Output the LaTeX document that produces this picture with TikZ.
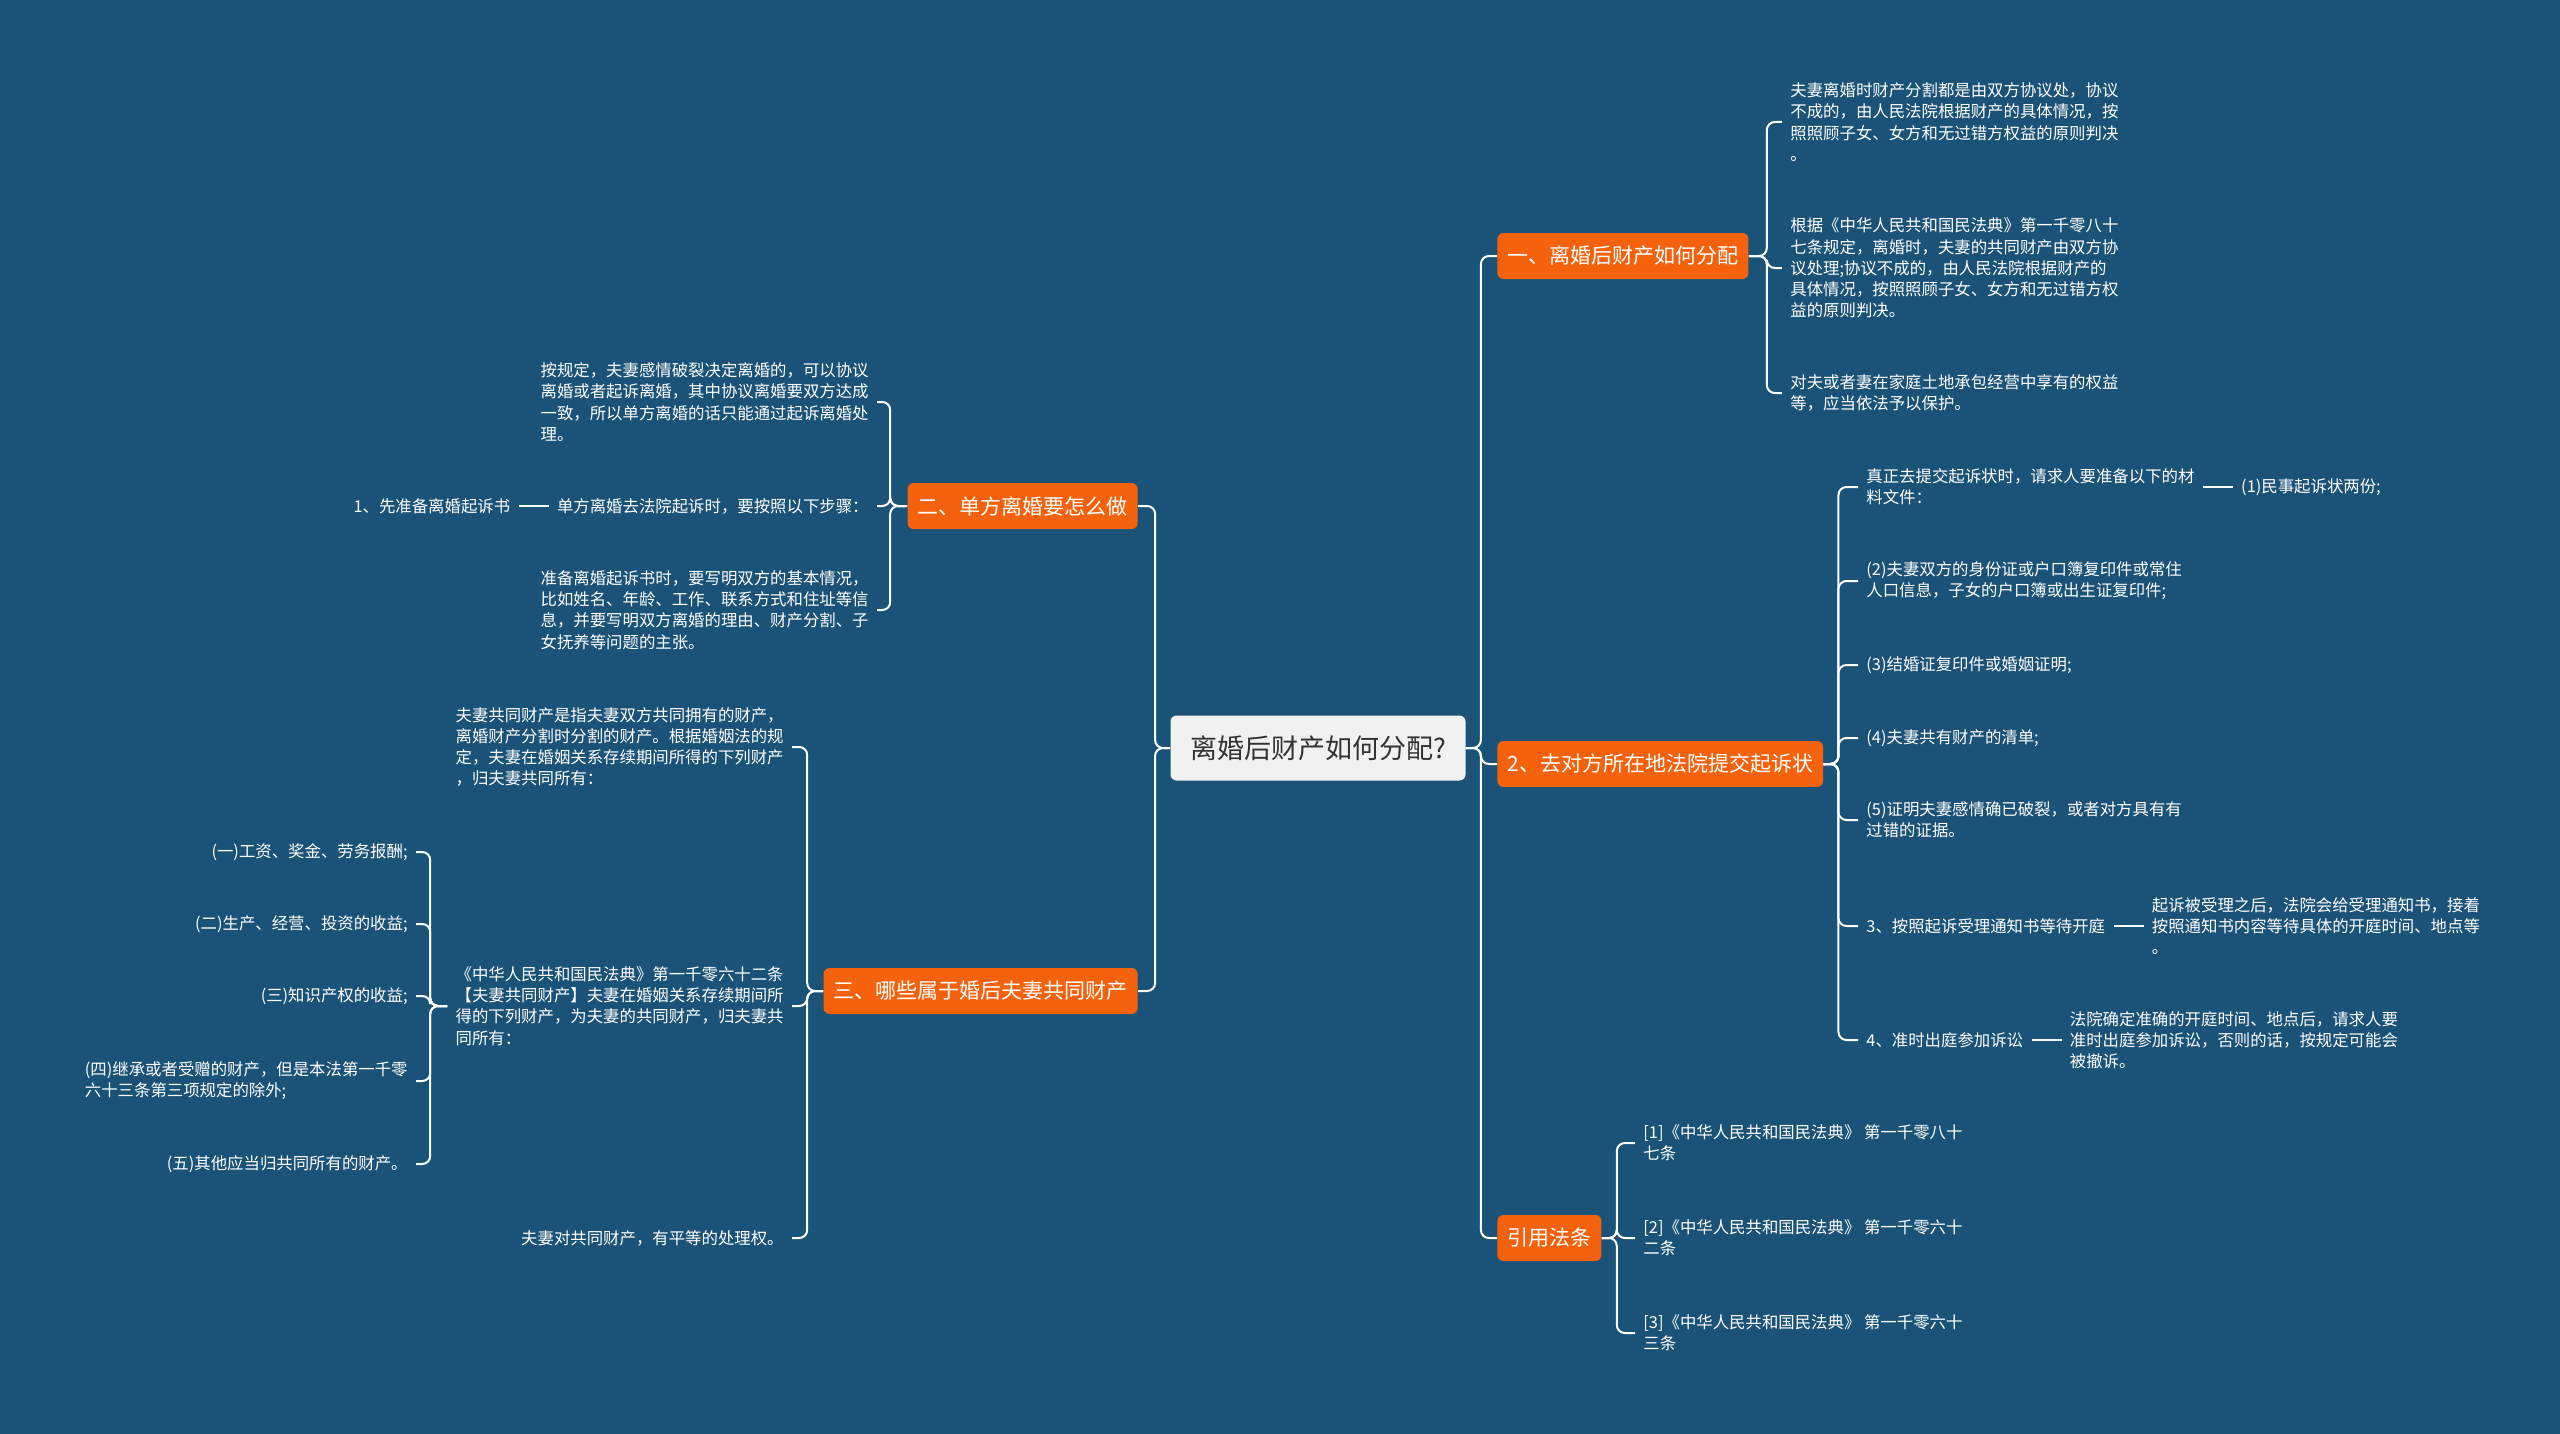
\documentclass[tikz,border=0pt]{standalone}
\usepackage{fontspec}
\setmainfont{Noto Sans CJK SC}
\usetikzlibrary{positioning}
\definecolor{bgblue}{RGB}{26,83,119}
\definecolor{topicorange}{RGB}{244,98,13}
\definecolor{rootgray}{RGB}{241,241,241}
\definecolor{rootink}{RGB}{51,51,51}

\begin{document}
\begin{tikzpicture}[
  x=0.5pt, y=-0.5pt,
  node distance=15pt,
  root/.style={rounded corners=3pt, fill=rootgray, text=rootink, font=\fontsize{13.5}{16}\selectfont, minimum width=147.5pt, minimum height=32.5pt},
  topic/.style={rounded corners=3pt, fill=topicorange, text=white, font=\fontsize{10.5}{12.5}\selectfont, minimum height=23pt, inner xsep=5pt},
  leaf/.style={text=white, font=\fontsize{8.2}{10.6}\selectfont, align=left, inner xsep=4pt, inner ysep=2pt},
  link/.style={draw=white, line width=1pt, rounded corners=4pt}
]
\fill[bgblue] (0,0) rectangle (2560,1434);

\node[root] (root) at (1318,748) {离婚后财产如何分配?};

\node[topic, anchor=west] (dist) at (1497,256) {一、离婚后财产如何分配};
\node[topic, anchor=west] (sue) at (1497,764) {2、去对方所在地法院提交起诉状};
\node[topic, anchor=west] (cite) at (1497,1238) {引用法条};
\node[topic, anchor=east] (single) at (1138,506) {二、单方离婚要怎么做};
\node[topic, anchor=east] (joint) at (1138,991) {三、哪些属于婚后夫妻共同财产};

% right side leaves
\node[leaf, anchor=west] (d1) at (1782,122) {夫妻离婚时财产分割都是由双方协议处，协议\\不成的，由人民法院根据财产的具体情况，按\\照照顾子女、女方和无过错方权益的原则判决\\。};
\node[leaf, anchor=west] (d2) at (1782,268) {根据《中华人民共和国民法典》第一千零八十\\七条规定，离婚时，夫妻的共同财产由双方协\\议处理;协议不成的，由人民法院根据财产的\\具体情况，按照照顾子女、女方和无过错方权\\益的原则判决。};
\node[leaf, anchor=west] (d3) at (1782,393) {对夫或者妻在家庭土地承包经营中享有的权益\\等，应当依法予以保护。};

\node[leaf, anchor=west] (s1) at (1858,487) {真正去提交起诉状时，请求人要准备以下的材\\料文件：};
\node[leaf, right=of s1] (s1a) {(1)民事起诉状两份;};
\node[leaf, anchor=west] (s2) at (1858,581) {(2)夫妻双方的身份证或户口簿复印件或常住\\人口信息，子女的户口簿或出生证复印件;};
\node[leaf, anchor=west] (s3) at (1858,665) {(3)结婚证复印件或婚姻证明;};
\node[leaf, anchor=west] (s4) at (1858,738) {(4)夫妻共有财产的清单;};
\node[leaf, anchor=west] (s5) at (1858,820) {(5)证明夫妻感情确已破裂，或者对方具有有\\过错的证据。};
\node[leaf, anchor=west] (s6) at (1858,926) {3、按照起诉受理通知书等待开庭};
\node[leaf, right=of s6] (s6a) {起诉被受理之后，法院会给受理通知书，接着\\按照通知书内容等待具体的开庭时间、地点等\\。};
\node[leaf, anchor=west] (s7) at (1858,1040) {4、准时出庭参加诉讼};
\node[leaf, right=of s7] (s7a) {法院确定准确的开庭时间、地点后，请求人要\\准时出庭参加诉讼，否则的话，按规定可能会\\被撤诉。};

\node[leaf, anchor=west] (r1) at (1635,1143) {[1]《中华人民共和国民法典》 第一千零八十\\七条};
\node[leaf, anchor=west] (r2) at (1635,1238) {[2]《中华人民共和国民法典》 第一千零六十\\二条};
\node[leaf, anchor=west] (r3) at (1635,1333) {[3]《中华人民共和国民法典》 第一千零六十\\三条};

% left side leaves
\node[leaf, anchor=east] (a1) at (877,402) {按规定，夫妻感情破裂决定离婚的，可以协议\\离婚或者起诉离婚，其中协议离婚要双方达成\\一致，所以单方离婚的话只能通过起诉离婚处\\理。};
\node[leaf, anchor=east] (a2) at (877,506) {单方离婚去法院起诉时，要按照以下步骤：};
\node[leaf, left=of a2] (a2b) {1、先准备离婚起诉书};
\node[leaf, anchor=east] (a3) at (877,610) {准备离婚起诉书时，要写明双方的基本情况，\\比如姓名、年龄、工作、联系方式和住址等信\\息，并要写明双方离婚的理由、财产分割、子\\女抚养等问题的主张。};

\node[leaf, anchor=east] (j1) at (792,747) {夫妻共同财产是指夫妻双方共同拥有的财产，\\离婚财产分割时分割的财产。根据婚姻法的规\\定，夫妻在婚姻关系存续期间所得的下列财产\\，归夫妻共同所有：};
\node[leaf, anchor=east] (j2) at (792,1006) {《中华人民共和国民法典》第一千零六十二条\\【夫妻共同财产】夫妻在婚姻关系存续期间所\\得的下列财产，为夫妻的共同财产，归夫妻共\\同所有：};
\node[leaf, anchor=east] (j3) at (792,1238) {夫妻对共同财产，有平等的处理权。};

\node[leaf, anchor=east] (k1) at (416,852) {(一)工资、奖金、劳务报酬;};
\node[leaf, anchor=east] (k2) at (416,924) {(二)生产、经营、投资的收益;};
\node[leaf, anchor=east] (k3) at (416,996) {(三)知识产权的收益;};
\node[leaf, anchor=east] (k4) at (416,1081) {(四)继承或者受赠的财产，但是本法第一千零\\六十三条第三项规定的除外;};
\node[leaf, anchor=east] (k5) at (416,1164) {(五)其他应当归共同所有的财产。};

% connectors
\draw[link] (root.east) -- ++(15,0) |- (dist.west);
\draw[link] (root.east) -- ++(15,0) |- (sue.west);
\draw[link] (root.east) -- ++(15,0) |- (cite.west);
\draw[link] (root.west) -- ++(-15,0) |- (single.east);
\draw[link] (root.west) -- ++(-15,0) |- (joint.east);

\draw[link] (dist.east) -- ++(18,0) |- (d1.west);
\draw[link] (dist.east) -- ++(18,0) |- (d2.west);
\draw[link] (dist.east) -- ++(18,0) |- (d3.west);

\draw[link] (sue.east) -- ++(15,0) |- (s1.west);
\draw[link] (sue.east) -- ++(15,0) |- (s2.west);
\draw[link] (sue.east) -- ++(15,0) |- (s3.west);
\draw[link] (sue.east) -- ++(15,0) |- (s4.west);
\draw[link] (sue.east) -- ++(15,0) |- (s5.west);
\draw[link] (sue.east) -- ++(15,0) |- (s6.west);
\draw[link] (sue.east) -- ++(15,0) |- (s7.west);
\draw[link] (s1) -- (s1a);
\draw[link] (s6) -- (s6a);
\draw[link] (s7) -- (s7a);

\draw[link] (cite.east) -- ++(15,0) |- (r1.west);
\draw[link] (cite.east) -- ++(15,0) |- (r2.west);
\draw[link] (cite.east) -- ++(15,0) |- (r3.west);

\draw[link] (single.west) -- ++(-17,0) |- (a1.east);
\draw[link] (single.west) -- ++(-17,0) |- (a2.east);
\draw[link] (single.west) -- ++(-17,0) |- (a3.east);
\draw[link] (a2) -- (a2b);

\draw[link] (joint.west) -- ++(-16,0) |- (j1.east);
\draw[link] (joint.west) -- ++(-16,0) |- (j2.east);
\draw[link] (joint.west) -- ++(-16,0) |- (j3.east);

\draw[link] (j2.west) -- ++(-17,0) |- (k1.east);
\draw[link] (j2.west) -- ++(-17,0) |- (k2.east);
\draw[link] (j2.west) -- ++(-17,0) |- (k3.east);
\draw[link] (j2.west) -- ++(-17,0) |- (k4.east);
\draw[link] (j2.west) -- ++(-17,0) |- (k5.east);
\end{tikzpicture}
\end{document}
